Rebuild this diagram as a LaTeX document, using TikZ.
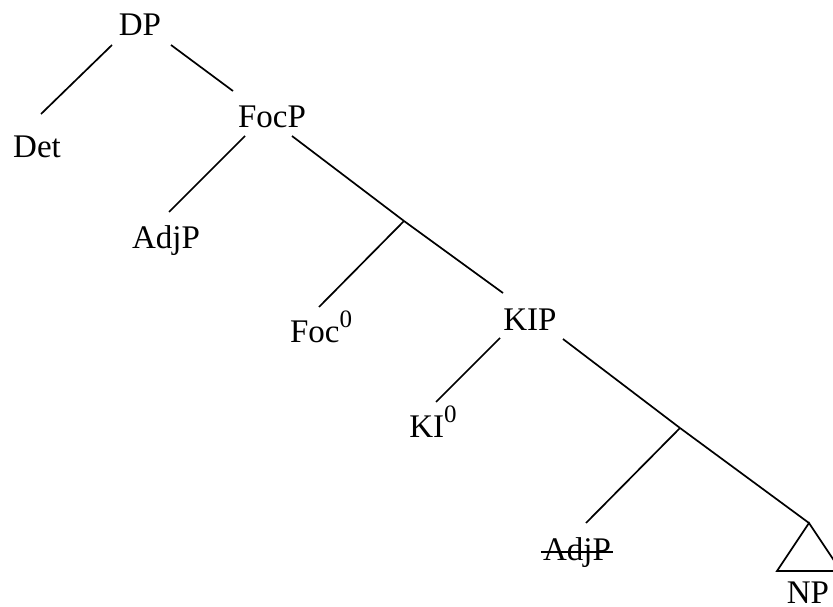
\documentclass[tikz,border=0pt]{standalone}
\usepackage{fontspec}
\setmainfont{Liberation Serif}
\newcommand{\supzero}{\raisebox{15pt}{\fontsize{25}{25}\selectfont 0}}
\begin{document}
\begin{tikzpicture}[x=1pt,y=-1pt,
  lab/.style={anchor=base,inner sep=0pt,font=\fontsize{33}{40}\selectfont},
  edge/.style={line width=1.7pt}]
\useasboundingbox (0,0) rectangle (833,607);
% labels
\node[lab] (DP)   at (140,36)  {DP};
\node[lab] (Det)  at (37,158)  {Det};
\node[lab] (FocP) at (272,128) {FocP};
\node[lab] (AdjP) at (166,248) {AdjP};
\node[lab] (Foc0) at (321,342) {Foc\supzero};
\node[lab] (KIP)  at (530,330) {KIP};
\node[lab] (KI0)  at (433,437) {KI\supzero};
\node[lab] (AdjS) at (577,560) {AdjP};
\node[lab] (NP)   at (808,603) {NP};
% branch points
\coordinate (b1) at (404,221);
\coordinate (b2) at (680,428);
% line ends
\coordinate (DPl) at (112,45);
\coordinate (DPr) at (171,45);
\coordinate (Dett) at (41,114);
\coordinate (FocPt) at (233,91);
\coordinate (FocPl) at (245,136);
\coordinate (FocPr) at (292,136);
\coordinate (AdjPt) at (169,212);
\coordinate (Foc0t) at (319,307);
\coordinate (KIPt) at (503,293);
\coordinate (KIPl) at (500,338);
\coordinate (KIPr) at (563,339);
\coordinate (KI0t) at (436,402);
\coordinate (AdjSt) at (586,523);
\coordinate (NPa) at (809,523);
\coordinate (NPl) at (777,571);
\coordinate (NPr) at (841,571);
% edges
\draw[edge] (DPl) -- (Dett);
\draw[edge] (DPr) -- (FocPt);
\draw[edge] (FocPl) -- (AdjPt);
\draw[edge] (FocPr) -- (b1);
\draw[edge] (b1) -- (Foc0t);
\draw[edge] (b1) -- (KIPt);
\draw[edge] (KIPl) -- (KI0t);
\draw[edge] (KIPr) -- (b2);
\draw[edge] (b2) -- (AdjSt);
\draw[edge] (b2) -- (NPa);
\draw[edge,line join=miter] (NPa) -- (NPl) -- (NPr) -- cycle;
% strike-through
\draw[edge] ([xshift=-2pt,yshift=8pt]AdjS.base west) -- ([xshift=2pt,yshift=8pt]AdjS.base east);
\end{tikzpicture}
\end{document}
